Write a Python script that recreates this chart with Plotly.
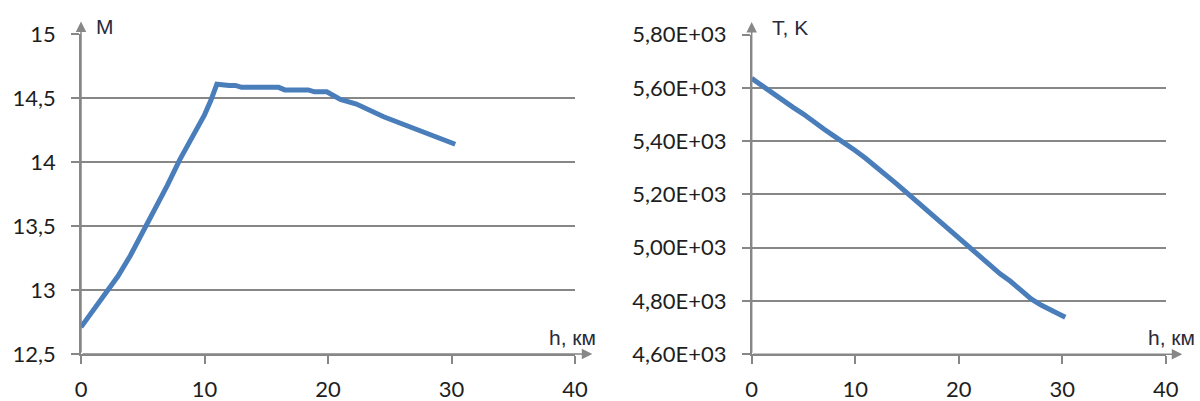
import plotly.graph_objects as go

# Mach number along the altitude profile
h_m = [0, 1, 2, 3, 4, 5, 6, 7, 8, 9, 9.5, 10, 10.5, 11, 12, 12.5, 13, 16, 16.5,
       18.4, 18.9, 19.9, 21, 22.3, 24.5, 26.3, 27.2, 29.6, 30.3]
mach = [12.71, 12.84, 12.97, 13.11, 13.27, 13.45, 13.63, 13.82, 14.02, 14.19,
        14.27, 14.37, 14.48, 14.61, 14.60, 14.60, 14.585, 14.585, 14.565,
        14.565, 14.55, 14.55, 14.49, 14.455, 14.355, 14.29, 14.25, 14.17, 14.14]

# Temperature along the altitude profile
h_t = [0, 1, 2, 3, 4, 5, 6, 7, 8, 9, 10, 11, 12, 13, 14, 15, 16, 17, 18, 19,
       20, 21, 22, 23, 24, 25, 26, 27, 28, 29, 30, 30.3]
temp = [5636, 5608, 5580, 5552, 5527, 5502, 5472, 5445, 5418, 5393, 5365,
        5336, 5305, 5272, 5240, 5206, 5172, 5134, 5100, 5066, 5035, 5004,
        4968, 4934, 4902, 4874, 4842, 4808, 4784, 4763, 4745, 4739]

x_ticks = [0, 10, 20, 30, 40]
x_ticktext = ["0", "10", "20", "30", "40"]
m_ticks = [12.5, 13, 13.5, 14, 14.5, 15]
m_ticktext = ["12,5", "13", "13,5", "14", "14,5", "15"]
t_ticks = [4600, 4800, 5000, 5200, 5400, 5600, 5800]
t_ticktext = ["4,60E+03", "4,80E+03", "5,00E+03", "5,20E+03",
              "5,40E+03", "5,60E+03", "5,80E+03"]

LINE = "#4a7ebb"
GRID = "#878787"
TXT = "#1e1e1e"
TICKFONT = dict(family="Lato", size=22, color=TXT)
TITLEFONT = dict(family="Liberation Sans", size=21, color="#2a2a3a")

fig = go.Figure()
fig.add_trace(go.Scatter(x=h_m, y=mach, mode="lines",
                         line=dict(color=LINE, width=5),
                         xaxis="x", yaxis="y", showlegend=False))
fig.add_trace(go.Scatter(x=h_t, y=temp, mode="lines",
                         line=dict(color=LINE, width=5),
                         xaxis="x2", yaxis="y2", showlegend=False))

xcommon = dict(tickvals=x_ticks, ticktext=x_ticktext, showgrid=False,
               zeroline=False, showline=True, linecolor=GRID, linewidth=1.5,
               ticks="outside", ticklen=8, tickcolor=GRID, tickwidth=1.5,
               tickfont=TICKFONT, ticklabelstandoff=7, range=[0, 40],
               automargin=False)
ycommon = dict(showgrid=True, gridcolor=GRID, gridwidth=1.5, zeroline=False,
               showline=True, linecolor=GRID, linewidth=1.5, ticks="outside",
               ticklen=8, tickcolor=GRID, tickwidth=1.5, tickfont=TICKFONT,
               ticklabelstandoff=11, automargin=False)

fig.update_layout(
    width=1200, height=401,
    margin=dict(l=0, r=0, t=0, b=0, autoexpand=False),
    paper_bgcolor="white", plot_bgcolor="white",
    xaxis=dict(domain=[0.0675, 0.4792], anchor="y", **xcommon),
    yaxis=dict(domain=[0.1172, 0.9145], anchor="x", range=[12.5, 15],
               tickvals=m_ticks, ticktext=m_ticktext, **ycommon),
    xaxis2=dict(domain=[0.6264, 0.9714], anchor="y2", **xcommon),
    yaxis2=dict(domain=[0.1165, 0.9135], anchor="x2", range=[4600, 5800],
                tickvals=t_ticks, ticktext=t_ticktext, **ycommon),
)

arrow = dict(text="", showarrow=True, arrowhead=2, arrowsize=1.4,
             arrowwidth=1.5, arrowcolor=GRID)
annotations = [
    # axis arrows, left panel
    dict(x=41.4, y=12.5, ax=0, ay=12.5, xref="x", yref="y",
         axref="x", ayref="y", **arrow),
    dict(x=0, y=15.1, ax=0, ay=12.5, xref="x", yref="y",
         axref="x", ayref="y", **arrow),
    # axis arrows, right panel
    dict(x=41.6, y=4600, ax=0, ay=4600, xref="x2", yref="y2",
         axref="x2", ayref="y2", **arrow),
    dict(x=0, y=5848, ax=0, ay=4600, xref="x2", yref="y2",
         axref="x2", ayref="y2", **arrow),
    # axis titles
    dict(x=0.026, y=1.023, xref="x domain", yref="y domain", text="M",
         showarrow=False, xanchor="left", yanchor="middle", font=TITLEFONT),
    dict(x=0.994, y=0.053, xref="x domain", yref="y domain", text="h, км",
         showarrow=False, xanchor="center", yanchor="middle", font=TITLEFONT),
    dict(x=0.044, y=1.024, xref="x2 domain", yref="y2 domain", text="T, K",
         showarrow=False, xanchor="left", yanchor="middle", font=TITLEFONT),
    dict(x=1.013, y=0.053, xref="x2 domain", yref="y2 domain", text="h, км",
         showarrow=False, xanchor="center", yanchor="middle", font=TITLEFONT),
]
fig.update_layout(annotations=annotations)

fig.write_html("out.html")
